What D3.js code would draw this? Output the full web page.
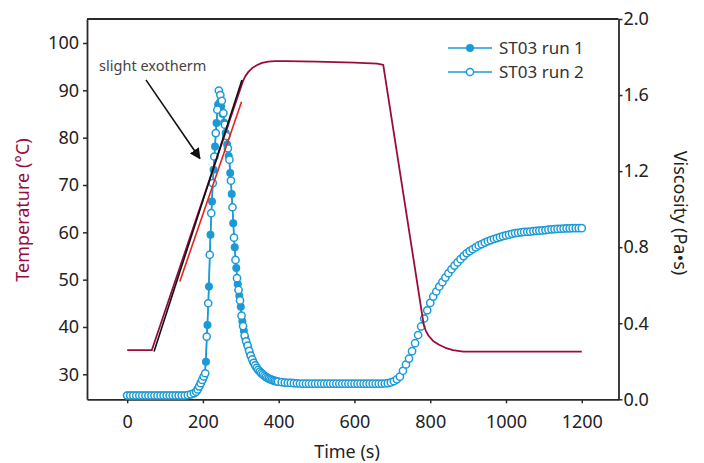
<!DOCTYPE html>
<html><head><meta charset="utf-8">
<script src="https://cdn.jsdelivr.net/npm/d3@7"></script>
<style>body{margin:0;background:#fff}svg{display:block;font-family:"Noto Sans",sans-serif}</style>
</head><body><svg id="c" width="704" height="463"></svg>
<script>
// ---- data ----
const timeTicks = [0, 200, 400, 600, 800, 1000, 1200];
const tempTicks = [30, 40, 50, 60, 70, 80, 90, 100];
const viscTicks = [0.0, 0.4, 0.8, 1.2, 1.6, 2.0];

// Temperature profile (°C)
const tempTime = [0, 65, 302, 306, 312, 320, 330, 342, 356, 372, 390, 420, 500, 600, 660, 676, 783, 788, 795, 807, 822, 840, 860, 887, 1200];
const tempVal  = [35.1, 35.1, 91.1, 92.0, 93.0, 93.9, 94.7, 95.3, 95.8, 96.05, 96.15, 96.15, 96.05, 95.85, 95.65, 95.4, 40.4, 39.3, 38.2, 37.1, 36.3, 35.6, 35.1, 34.8, 34.8];

// tangent lines on the ramp
const blackTime = [71, 303];
const blackTemp = [34.8, 92.2];
const redTime = [139, 302];
const redTemp = [49.6, 87.6];

// ST03 run 1 (Pa·s)
const run1Time = [0,8,16,24,32,40,48,56,64,72,80,88,96,104,112,120,128,136,144,152,160,168,176,
  180,184,188,192,196,200,204,208,212,216,220,224,228,232,236,240,244,248,252,256,260,264,268,272,276,
  280,284,288,292,296,300,304,308,312,316,320,324,328,332,336,340,344,348,352,356,360,364,368,372,376,
  380,384,388,392,396,400];
const run1Visc = [0.02,0.02,0.02,0.02,0.02,0.02,0.02,0.02,0.02,0.02,0.02,0.02,0.02,0.02,0.02,0.02,0.02,0.02,0.02,0.02,0.022,0.026,0.031,
  0.036,0.045,0.058,0.073,0.090,0.106,0.124,0.198,0.391,0.593,0.865,1.040,1.207,1.330,1.453,1.549,1.560,1.540,1.500,1.455,1.400,1.340,1.280,1.190,1.080,
  0.926,0.800,0.690,0.605,0.545,0.487,0.410,0.360,0.320,0.292,0.268,0.242,0.220,0.200,0.185,0.172,0.160,0.150,0.142,0.134,0.127,0.121,0.116,0.111,0.107,
  0.104,0.101,0.098,0.096,0.094,0.092];

// ST03 run 2 (Pa·s)
const run2Time = [0,8,16,24,32,40,48,56,64,72,80,88,96,104,112,120,128,136,144,152,160,168,176,
  182,186,190,194,198,202,206,210,214,218,222,226,230,234,238,242,246,250,254,258,262,266,270,274,278,
  282,286,290,294,298,302,306,310,314,318,322,326,330,334,338,342,346,350,354,358,362,366,370,374,378,
  382,386,390,394,398,
  408,416,424,432,440,448,456,464,472,480,488,496,504,512,520,528,536,544,552,560,568,576,584,592,600,
  608,616,624,632,640,648,656,664,672,680,688,696,704,712,720,728,736,744,752,760,768,776,784,792,800,
  808,816,824,832,840,848,856,864,872,880,888,896,904,912,920,928,936,944,952,960,968,976,984,992,1000,
  1008,1016,1024,1032,1040,1048,1056,1064,1072,1080,1088,1096,1104,1112,1120,1128,1136,1144,1152,1160,
  1168,1176,1184,1192,1200];
const run2Visc = [0.02,0.02,0.02,0.02,0.02,0.02,0.02,0.02,0.02,0.02,0.02,0.02,0.02,0.02,0.02,0.02,0.02,0.02,0.02,0.02,0.022,0.026,0.032,
  0.040,0.052,0.068,0.085,0.102,0.120,0.137,0.330,0.505,0.760,0.979,1.137,1.277,1.400,1.523,1.624,1.600,1.570,1.505,1.444,1.385,1.320,1.260,1.150,1.010,
  0.850,0.733,0.637,0.575,0.520,0.440,0.385,0.335,0.305,0.283,0.255,0.230,0.210,0.192,0.178,0.166,0.155,0.146,0.138,0.131,0.124,0.118,0.113,0.109,0.105,
  0.102,0.099,0.097,0.095,0.093,
  0.090,0.088,0.087,0.086,0.085,0.084,0.083,0.082,0.082,0.082,0.082,0.082,0.082,0.082,0.082,0.082,0.082,0.082,0.082,0.082,0.082,0.082,0.082,0.082,0.082,
  0.082,0.082,0.082,0.082,0.082,0.082,0.082,0.082,0.082,0.083,0.085,0.089,0.095,0.105,0.119,0.150,0.183,0.214,0.253,0.295,0.338,0.383,0.425,0.468,0.507,
  0.540,0.567,0.593,0.616,0.640,0.663,0.684,0.703,0.720,0.737,0.753,0.768,0.779,0.789,0.799,0.809,0.816,0.824,0.831,0.837,0.843,0.848,0.853,0.858,0.862,
  0.866,0.870,0.874,0.876,0.878,0.880,0.881,0.882,0.884,0.886,0.887,0.888,0.890,0.892,0.894,0.895,0.896,0.897,0.898,0.899,
  0.899,0.900,0.900,0.900,0.900];

const seriesNames = ["ST03 run 1", "ST03 run 2"];

// ---- drawing ----
const blue = "#1b9ad6", crimson = "#9a0c3e", axisCol = "#2a2a2a", textCol = "#222";
const L = 87, R = 618.5, T = 19, B = 399.3;
const svg = d3.select("#c");
const x = d3.scaleLinear().domain([-106, 1297]).range([L, R]);
const yT = d3.scaleLinear().domain([24.72, 105.07]).range([B, T]);
const yV = d3.scaleLinear().domain([0, 2]).range([B, T]);

function styleAxis(g) {
  g.select(".domain").attr("stroke", axisCol).attr("stroke-width", 1.8);
  g.selectAll(".tick line").attr("stroke", axisCol).attr("stroke-width", 1.5);
  g.selectAll(".tick text").attr("fill", textCol).style("font-size", "18px").style("font-family", '"Noto Sans", sans-serif');
}

// frame top
svg.append("line").attr("x1", L).attr("x2", R).attr("y1", T).attr("y2", T).attr("stroke", axisCol).attr("stroke-width", 1.8);

svg.append("g").attr("transform", `translate(0,${B})`)
  .call(d3.axisBottom(x).tickValues(timeTicks).tickFormat(d3.format("d")).tickSize(4).tickPadding(12).tickSizeOuter(0))
  .call(styleAxis);
svg.append("g").attr("transform", `translate(${L},0)`)
  .call(d3.axisLeft(yT).tickValues(tempTicks).tickFormat(d3.format("d")).tickSize(4).tickPadding(4).tickSizeOuter(0))
  .call(styleAxis);
svg.append("g").attr("transform", `translate(${R},0)`)
  .call(d3.axisRight(yV).tickValues(viscTicks).tickFormat(d3.format(".1f")).tickSize(4).tickPadding(1).tickSizeOuter(0))
  .call(styleAxis);

// titles
svg.append("text").attr("x", 347).attr("y", 458).attr("text-anchor", "middle")
  .attr("fill", textCol).style("font-size", "18px").text("Time (s)");
svg.append("text").attr("transform", "translate(29,210) rotate(-90)").attr("text-anchor", "middle")
  .attr("fill", crimson).style("font-size", "18px").text("Temperature (°C)");
svg.append("text").attr("transform", "translate(674,213) rotate(90)").attr("text-anchor", "middle")
  .attr("fill", textCol).style("font-size", "18px").text("Viscosity (Pa•s)");

// viscosity series
const vLine = (ts, vs) => d3.line().x((d, i) => x(ts[i])).y((d, i) => yV(vs[i]))(vs);
const r1 = svg.append("g");
r1.append("path").attr("d", vLine(run1Time, run1Visc)).attr("fill", "none").attr("stroke", blue).attr("stroke-width", 1.5);
r1.selectAll("circle").data(run1Visc).join("circle")
  .attr("cx", (d, i) => x(run1Time[i])).attr("cy", d => yV(d)).attr("r", 4).attr("fill", blue);
const r2 = svg.append("g");
r2.append("path").attr("d", vLine(run2Time, run2Visc)).attr("fill", "none").attr("stroke", blue).attr("stroke-width", 1.5);
r2.selectAll("circle").data(run2Visc).join("circle")
  .attr("cx", (d, i) => x(run2Time[i])).attr("cy", d => yV(d)).attr("r", 3.6)
  .attr("fill", "#fff").attr("stroke", blue).attr("stroke-width", 1.5);

// temperature and tangent lines
const tLine = (ts, vs) => d3.line().x((d, i) => x(ts[i])).y((d, i) => yT(vs[i]))(vs);
svg.append("path").attr("d", tLine(tempTime, tempVal)).attr("fill", "none").attr("stroke", crimson).attr("stroke-width", 1.8).attr("stroke-linejoin", "round");
svg.append("path").attr("d", tLine(blackTime, blackTemp)).attr("fill", "none").attr("stroke", "#111").attr("stroke-width", 1.6);
svg.append("path").attr("d", tLine(redTime, redTemp)).attr("fill", "none").attr("stroke", "#e5231f").attr("stroke-width", 1.6);

// annotation
svg.append("defs").append("marker").attr("id", "ah").attr("viewBox", "0 0 10 10")
  .attr("refX", 9).attr("refY", 5).attr("markerWidth", 11).attr("markerHeight", 11)
  .attr("markerUnits", "userSpaceOnUse").attr("orient", "auto")
  .append("path").attr("d", "M0,0 L10,5 L0,10 z").attr("fill", "#111");
svg.append("line").attr("x1", x(49.6)).attr("y1", yT(92.2)).attr("x2", x(192)).attr("y2", yT(75.6))
  .attr("stroke", "#111").attr("stroke-width", 1.6).attr("marker-end", "url(#ah)");
svg.append("text").attr("x", x(-74)).attr("y", yT(94.1)).attr("fill", "#444")
  .style("font-size", "14.5px").text("slight exotherm");

// legend
const lg = svg.append("g");
seriesNames.forEach((name, i) => {
  const yy = 48 + i * 24;
  lg.append("line").attr("x1", 448).attr("x2", 492).attr("y1", yy).attr("y2", yy).attr("stroke", blue).attr("stroke-width", 1.5);
  lg.append("circle").attr("cx", 470).attr("cy", yy).attr("r", i === 0 ? 4 : 3.6)
    .attr("fill", i === 0 ? blue : "#fff").attr("stroke", blue).attr("stroke-width", i === 0 ? 0 : 1.5);
  lg.append("text").attr("x", 499).attr("y", yy + 6).attr("fill", "#333").style("font-size", "17px").text(name);
});
</script></body></html>
